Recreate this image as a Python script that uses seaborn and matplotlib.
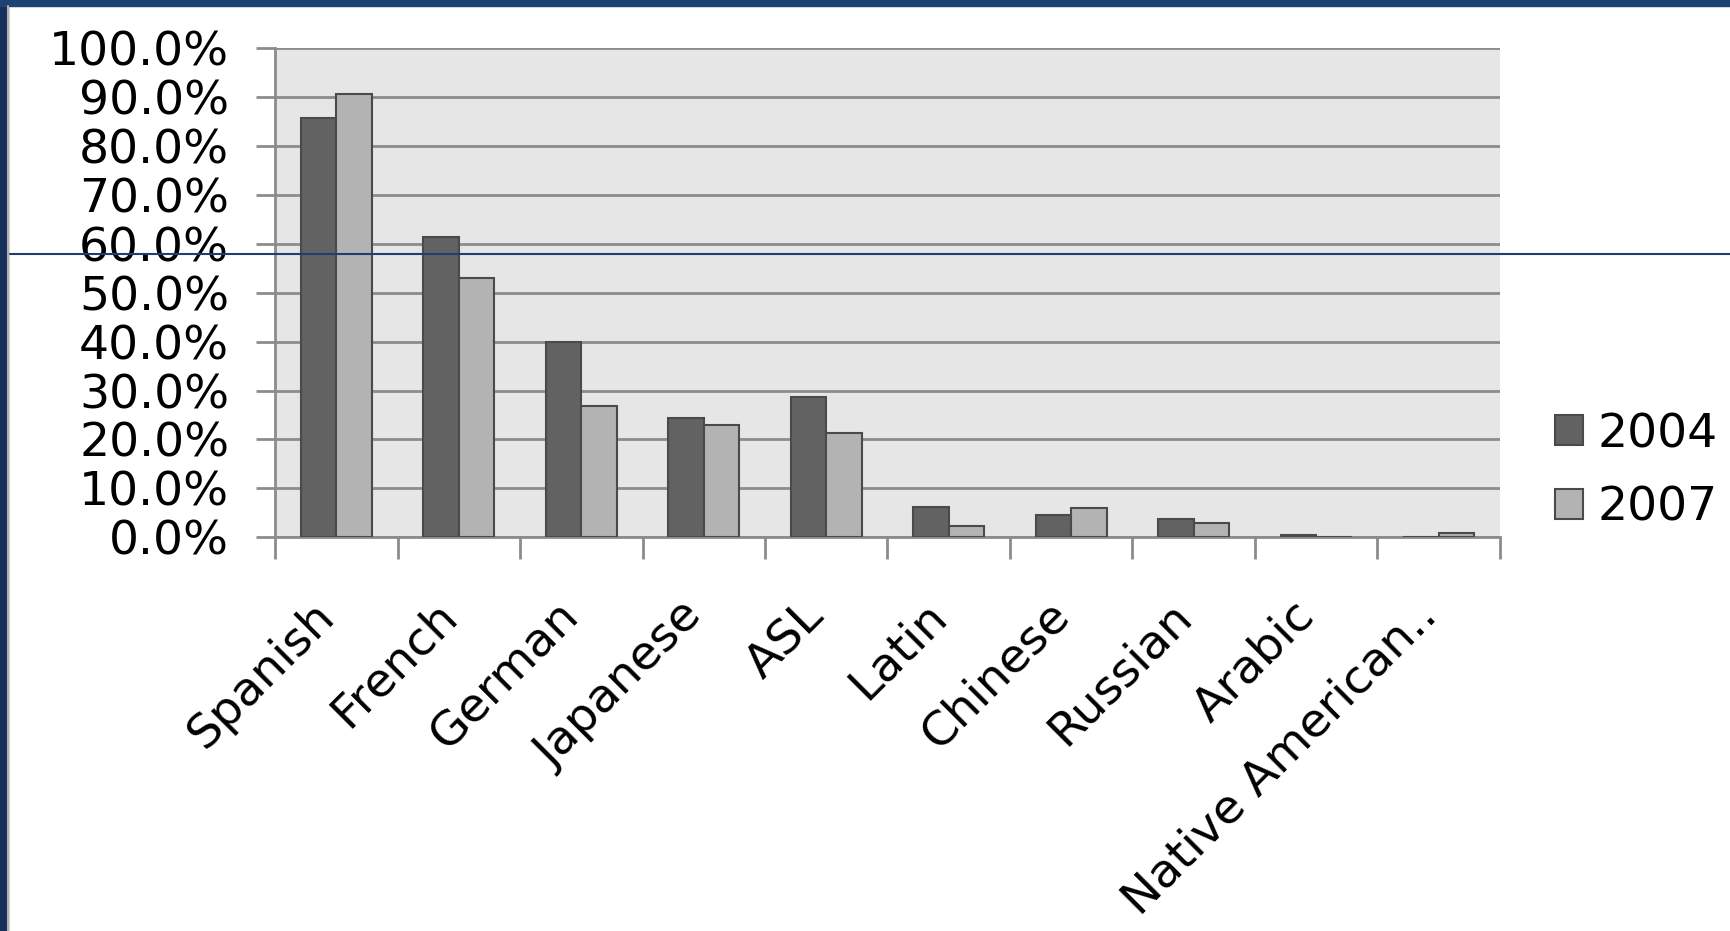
import matplotlib
matplotlib.use('Agg')
import matplotlib.pyplot as plt
from matplotlib.lines import Line2D
from matplotlib.patches import Rectangle
from matplotlib.ticker import PercentFormatter, FixedLocator
import seaborn as sns
import pandas as pd
import numpy as np

languages = ['Spanish', 'French', 'German', 'Japanese', 'ASL', 'Latin',
             'Chinese', 'Russian', 'Arabic', 'Native American..']
pct_2004 = [85.8, 61.4, 40.0, 24.4, 28.7, 6.1, 4.5, 3.8, 0.5, 0.0]
pct_2007 = [90.7, 53.0, 26.9, 23.0, 21.4, 2.3, 5.9, 2.9, 0.0, 0.9]
years = ['2004', '2007']

df = pd.DataFrame({'language': languages * 2,
                   'pct': pct_2004 + pct_2007,
                   'year': [years[0]] * len(languages) + [years[1]] * len(languages)})

sns.set_style('white')
plt.rcParams['font.family'] = ['DejaVu Sans']
plt.rcParams['text.color'] = 'black'
plt.rcParams['xtick.labelcolor'] = 'black'
plt.rcParams['ytick.labelcolor'] = 'black'

fig = plt.figure(figsize=(17.3, 9.31), dpi=100)
ax = fig.add_axes([0.159, 0.423, 0.708, 0.525])

sns.barplot(data=df, x='language', y='pct', hue='year', order=languages,
            palette={'2004': '#626262', '2007': '#b3b3b3'},
            width=0.58, gap=0, edgecolor='#4a4a4a', linewidth=1.5,
            saturation=1, ax=ax, zorder=3)

ax.set_facecolor('#e6e6e6')
ax.set_ylim(0, 100)
ax.set_xlim(-0.5, len(languages) - 0.5)
ax.set_yticks(np.arange(0, 101, 10))
ax.yaxis.set_major_formatter(PercentFormatter(decimals=1))
ax.grid(axis='y', color='#8c8c8c', linewidth=2, zorder=0)
ax.set_axisbelow(True)
ax.set_xlabel('')
ax.set_ylabel('')

for s in ['top', 'right']:
    ax.spines[s].set_visible(False)
for s in ['left', 'bottom']:
    ax.spines[s].set_color('#8c8c8c')
    ax.spines[s].set_linewidth(2)

ax.tick_params(axis='y', labelsize=34, length=14, width=2, color='#8c8c8c',
               labelcolor='black', pad=19, left=True)
ax.xaxis.set_minor_locator(FixedLocator(np.arange(-0.5, len(languages), 1)))
ax.tick_params(axis='x', which='minor', length=16, width=2, color='#8c8c8c', bottom=True)
ax.tick_params(axis='x', which='major', length=0, labelsize=34, labelcolor='black', pad=58)
plt.setp(ax.get_xticklabels(), rotation=45, ha='right', va='baseline', rotation_mode='anchor')

handles = [Rectangle((0, 0), 1, 1, facecolor='#626262', edgecolor='#4a4a4a', linewidth=1.5),
           Rectangle((0, 0), 1, 1, facecolor='#b3b3b3', edgecolor='#4a4a4a', linewidth=1.5)]
ax.legend(handles, years, loc='center left', bbox_to_anchor=(1.01, 0.135),
          frameon=False, fontsize=34, handlelength=0.6, handleheight=0.6,
          handletextpad=0.3, labelspacing=0.6, labelcolor='black')

# slide frame
fig.add_artist(Rectangle((0, 0), 8 / 1730, 1, transform=fig.transFigure, color='#17305a', zorder=0))
fig.add_artist(Rectangle((0, 1 - 6 / 931), 1, 6 / 931, transform=fig.transFigure, color='#1f4275', zorder=0))
fig.add_artist(Line2D([8 / 1730, 8 / 1730], [0, 1 - 6 / 931], transform=fig.transFigure, color='#b0b0b0', lw=1.5))
fig.add_artist(Line2D([10 / 1730, 1], [1 - 254 / 931, 1 - 254 / 931], transform=fig.transFigure, color='#1f3f6f', lw=1.5))

fig.savefig('out.png', dpi=100, facecolor='white')
